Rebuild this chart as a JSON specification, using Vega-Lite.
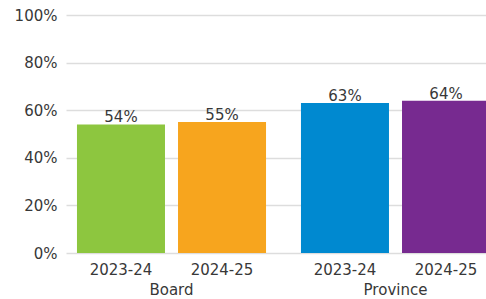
{
  "$schema": "https://vega.github.io/schema/vega-lite/v6.json",
  "autosize": {"type": "none"},
  "padding": {"left": 66, "top": 15, "right": 0, "bottom": 46},
  "width": 435,
  "height": 238,
  "background": "white",
  "config": {
    "view": {"stroke": null},
    "font": "DejaVu Sans",
    "axis": {"labelFont": "DejaVu Sans", "labelColor": "#383838", "labelFontSize": 15}
  },
  "data": {
    "values": [
      {"group": "Board", "year": "2023-24", "value": 54, "label": "54%"},
      {"group": "Board", "year": "2024-25", "value": 55, "label": "55%"},
      {"group": "Province", "year": "2023-24", "value": 63, "label": "63%"},
      {"group": "Province", "year": "2024-25", "value": 64, "label": "64%"}
    ]
  },
  "encoding": {
    "x": {
      "field": "group", "type": "nominal", "sort": ["Board", "Province"],
      "scale": {"paddingInner": 0.156, "paddingOuter": 0.049},
      "axis": {"title": null, "domain": false, "ticks": false, "grid": false, "labelAngle": 0, "labelPadding": 29, "labelFontSize": 15}
    },
    "xOffset": {"field": "year", "type": "nominal", "scale": {"paddingInner": 0.129, "paddingOuter": 0}}
  },
  "layer": [
    {
      "mark": {"type": "bar"},
      "encoding": {
        "y": {
          "field": "value", "type": "quantitative",
          "scale": {"domain": [0, 100]},
          "axis": {"title": null, "values": [0, 20, 40, 60, 80, 100], "labelExpr": "datum.value + '%'", "domain": false, "ticks": false, "gridColor": "#dddddd", "gridWidth": 1.5, "labelPadding": 9}
        },
        "color": {
          "field": "label", "type": "nominal",
          "scale": {"domain": ["54%", "55%", "63%", "64%"], "range": ["#8DC63F", "#F7A51E", "#0089D0", "#772A90"]},
          "legend": null
        }
      }
    },
    {
      "mark": {"type": "text", "baseline": "alphabetic", "dy": -2, "fontSize": 15, "color": "#383838"},
      "encoding": {
        "y": {"field": "value", "type": "quantitative"},
        "text": {"field": "label"}
      }
    },
    {
      "mark": {"type": "text", "baseline": "top", "dy": 10, "fontSize": 15, "color": "#383838"},
      "encoding": {
        "y": {"datum": 0, "type": "quantitative"},
        "text": {"field": "year"}
      }
    }
  ]
}
